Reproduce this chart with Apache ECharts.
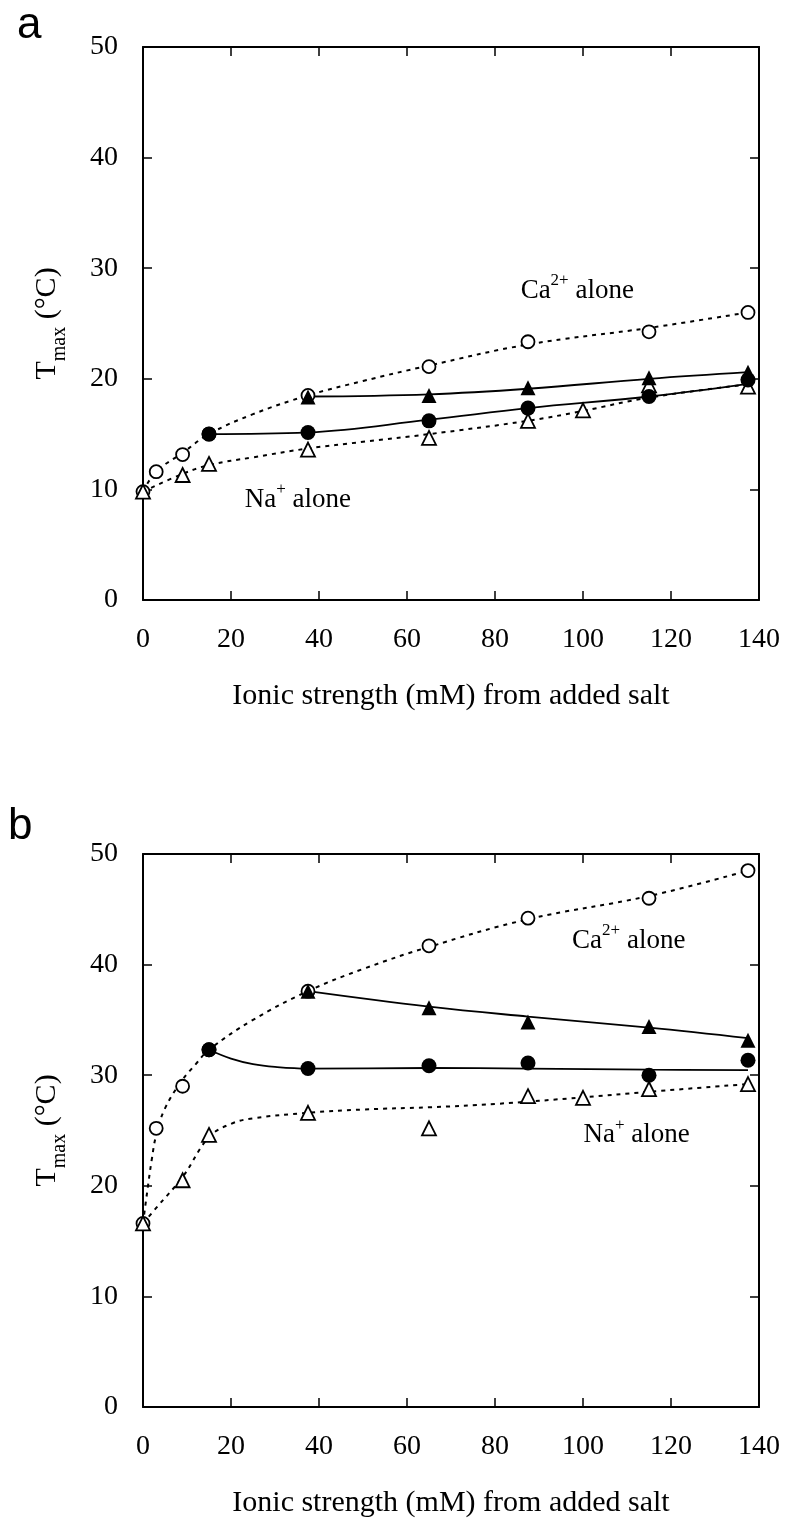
<!DOCTYPE html>
<html>
<head>
<meta charset="utf-8">
<script src="https://cdn.jsdelivr.net/npm/echarts@6/dist/echarts.min.js"></script>
<style>
html,body{margin:0;padding:0;background:#fff;}
#c{width:786px;height:1521px;}
</style>
</head>
<body>
<div id="c"></div>
<script>
// ---------- axis ticks ----------
const xTicks = {min: 0, max: 140, interval: 20};
const yTicks = {min: 0, max: 50, interval: 10};
const xTitle = 'Ionic strength (mM) from added salt';

// ---------- panel a: measured points ----------
const aCaX = [0, 3, 9, 15, 37.5, 65, 87.5, 115, 137.5];
const aCaY = [9.8, 11.6, 13.15, 15.0, 18.5, 21.1, 23.35, 24.25, 26.0];
const aNaX = [0, 9, 15, 37.5, 65, 87.5, 100, 115, 137.5];
const aNaY = [9.8, 11.3, 12.3, 13.6, 14.65, 16.2, 17.15, 19.4, 19.3];
const aMixCircX = [15, 37.5, 65, 87.5, 115, 137.5];
const aMixCircY = [15.0, 15.15, 16.2, 17.35, 18.4, 19.9];
const aMixTriX = [37.5, 65, 87.5, 115, 137.5];
const aMixTriY = [18.35, 18.5, 19.2, 20.1, 20.6];

// ---------- panel a: fitted curves ----------
const aCaFitX = [0, 3, 9, 15, 25, 37.5, 50, 65, 87.5, 115, 137.5];
const aCaFitY = [9.8, 11.6, 13.3, 15.0, 16.8, 18.5, 19.8, 21.2, 23.1, 24.6, 26.0];
const aNaFitX = [0, 9, 15, 25, 37.5, 50, 65, 87.5, 100, 115, 137.5];
const aNaFitY = [9.8, 11.4, 12.2, 12.9, 13.7, 14.3, 15.0, 16.2, 17.1, 18.3, 19.5];
const aCircFitX = [15, 37.5, 65, 87.5, 115, 137.5];
const aCircFitY = [15.0, 15.15, 16.3, 17.35, 18.4, 19.55];
const aTriFitX = [37.5, 65, 87.5, 115, 137.5];
const aTriFitY = [18.4, 18.6, 19.1, 20.0, 20.6];

// ---------- panel b: measured points ----------
const bCaX = [0, 3, 9, 15, 37.5, 65, 87.5, 115, 137.5];
const bCaY = [16.6, 25.2, 29.0, 32.3, 37.6, 41.7, 44.2, 46.0, 48.5];
const bNaX = [0, 9, 15, 37.5, 65, 87.5, 100, 115, 137.5];
const bNaY = [16.6, 20.5, 24.6, 26.6, 25.2, 28.1, 27.95, 28.75, 29.2];
const bMixCircX = [15, 37.5, 65, 87.5, 115, 137.5];
const bMixCircY = [32.3, 30.6, 30.85, 31.1, 30.0, 31.35];
const bMixTriX = [37.5, 65, 87.5, 115, 137.5];
const bMixTriY = [37.6, 36.1, 34.8, 34.4, 33.15];

// ---------- panel b: fitted curves ----------
const bCaFitX = [0, 1, 2, 3, 5, 9, 12, 15, 25, 37.5, 50, 65, 87.5, 115, 137.5];
const bCaFitY = [16.6, 19.6, 22.4, 24.6, 27.0, 29.6, 31.0, 32.3, 35.0, 37.6, 39.6, 41.6, 44.1, 46.2, 48.5];
const bNaFitX = [0, 3, 9, 15, 20, 25, 37.5, 50, 65, 80, 100, 115, 137.5];
const bNaFitY = [16.6, 18.0, 20.8, 24.4, 25.6, 26.1, 26.6, 26.9, 27.1, 27.4, 28.0, 28.5, 29.2];
const bCircFitX = [15, 20, 25, 30, 37.5, 65, 87.5, 115, 137.5];
const bCircFitY = [32.3, 31.5, 31.0, 30.75, 30.6, 30.65, 30.6, 30.5, 30.45];
const bTriFitX = [37.5, 65, 87.5, 115, 137.5];
const bTriFitY = [37.6, 36.2, 35.3, 34.3, 33.35];

// ---------- labels ----------
const caLabel = '{n|Ca}{s|2+}{n| alone}';
const naLabel = '{n|Na}{s|+}{n| alone}';
const aCaLabelPos = [98.7, 28.2];
const aNaLabelPos = [35.2, 9.3];
const bCaLabelPos = [110.4, 42.4];
const bNaLabelPos = [112.2, 24.8];

const FONT = 'Liberation Serif';
const zip = (xs, ys) => xs.map((x, i) => [x, ys[i]]);

const chart = echarts.init(document.getElementById('c'), null, {renderer: 'canvas'});

const grids = [
  {left: 143, top: 47, width: 616, height: 553},
  {left: 143, top: 854, width: 616, height: 553}
];

function xAxes(gi) {
  const common = {
    gridIndex: gi, type: 'value', min: xTicks.min, max: xTicks.max, interval: xTicks.interval,
    splitLine: {show: false},
    axisLine: {show: true, onZero: false, lineStyle: {color: '#000', width: 2}},
    axisTick: {show: true, inside: true, length: 9, lineStyle: {color: '#000', width: 1.5}}
  };
  return [
    Object.assign({}, common, {
      position: 'bottom',
      axisLabel: {show: true, margin: 26, color: '#000', fontFamily: FONT, fontSize: 28},
      name: xTitle, nameLocation: 'middle', nameGap: 81,
      nameTextStyle: {color: '#000', fontFamily: FONT, fontSize: 30}
    }),
    Object.assign({}, common, {position: 'top', axisLabel: {show: false}})
  ];
}
function yAxes(gi) {
  const common = {
    gridIndex: gi, type: 'value', min: yTicks.min, max: yTicks.max, interval: yTicks.interval,
    splitLine: {show: false},
    axisLine: {show: true, onZero: false, lineStyle: {color: '#000', width: 2}},
    axisTick: {show: true, inside: true, length: 9, lineStyle: {color: '#000', width: 1.5}}
  };
  return [
    Object.assign({}, common, {
      position: 'left',
      axisLabel: {show: true, margin: 25, color: '#000', fontFamily: FONT, fontSize: 28},
      name: '{t|T}{sub|max}{t| (°C)}', nameLocation: 'middle', nameRotate: 90, nameGap: 73,
      nameTextStyle: {
        color: '#000', fontFamily: FONT, fontSize: 30,
        rich: {
          t: {fontFamily: FONT, fontSize: 30, color: '#000', lineHeight: 38, verticalAlign: 'top'},
          sub: {fontFamily: FONT, fontSize: 20, color: '#000', lineHeight: 38, verticalAlign: 'bottom'}
        }
      }
    }),
    Object.assign({}, common, {position: 'right', axisLabel: {show: false}})
  ];
}

function fitLine(xs, ys, xi, yi, dashed) {
  return {
    type: 'line', xAxisIndex: xi, yAxisIndex: yi, data: zip(xs, ys),
    showSymbol: false, symbol: 'none', smooth: 0.4, z: 2, silent: true,
    lineStyle: {color: '#000', width: dashed ? 2 : 1.8, type: dashed ? [4, 5] : 'solid', opacity: 1}
  };
}
function pts(xs, ys, xi, yi, symbol, filled) {
  const isTri = symbol === 'triangle';
  return {
    type: 'scatter', xAxisIndex: xi, yAxisIndex: yi, data: zip(xs, ys),
    symbol: symbol, symbolSize: isTri ? (filled ? 15 : 14) : (filled ? 15 : 13),
    z: filled ? 5 : 4, silent: true,
    itemStyle: filled ? {color: '#000', borderColor: '#000', borderWidth: 0, opacity: 1}
                      : {color: '#fff', borderColor: '#000', borderWidth: 1.8, opacity: 1}
  };
}

const series = [
  fitLine(aCaFitX, aCaFitY, 0, 0, true),
  fitLine(aNaFitX, aNaFitY, 0, 0, true),
  fitLine(aCircFitX, aCircFitY, 0, 0, false),
  fitLine(aTriFitX, aTriFitY, 0, 0, false),
  pts(aCaX, aCaY, 0, 0, 'circle', false),
  pts(aNaX, aNaY, 0, 0, 'triangle', false),
  pts(aMixCircX, aMixCircY, 0, 0, 'circle', true),
  pts(aMixTriX, aMixTriY, 0, 0, 'triangle', true),
  fitLine(bCaFitX, bCaFitY, 2, 2, true),
  fitLine(bNaFitX, bNaFitY, 2, 2, true),
  fitLine(bCircFitX, bCircFitY, 2, 2, false),
  fitLine(bTriFitX, bTriFitY, 2, 2, false),
  pts(bCaX, bCaY, 2, 2, 'circle', false),
  pts(bNaX, bNaY, 2, 2, 'triangle', false),
  pts(bMixCircX, bMixCircY, 2, 2, 'circle', true),
  pts(bMixTriX, bMixTriY, 2, 2, 'triangle', true)
];

chart.setOption({
  animation: false,
  backgroundColor: '#fff',
  grid: grids,
  xAxis: xAxes(0).concat(xAxes(1)),
  yAxis: yAxes(0).concat(yAxes(1)),
  series: series
});

const labelRich = {
  n: {fontFamily: FONT, fontSize: 27, fill: '#000', color: '#000', lineHeight: 32, verticalAlign: 'bottom'},
  s: {fontFamily: FONT, fontSize: 17, fill: '#000', color: '#000', lineHeight: 32, verticalAlign: 'top'}
};
function annot(text, pos, xi, yi) {
  const p = chart.convertToPixel({xAxisIndex: xi, yAxisIndex: yi}, pos);
  return {
    type: 'text', x: p[0], y: p[1], z: 10,
    style: {text: text, rich: labelRich, align: 'center', verticalAlign: 'middle', fill: '#000',
            font: '27px "Liberation Serif"'}
  };
}

chart.setOption({
  graphic: [
    {type: 'text', left: 17, top: 4, style: {text: 'a', font: '44px "Liberation Sans"', fill: '#000'}},
    {type: 'text', left: 8, top: 805, style: {text: 'b', font: '44px "Liberation Sans"', fill: '#000'}},
    annot(caLabel, aCaLabelPos, 0, 0),
    annot(naLabel, aNaLabelPos, 0, 0),
    annot(caLabel, bCaLabelPos, 2, 2),
    annot(naLabel, bNaLabelPos, 2, 2)
  ]
});
</script>
</body>
</html>
